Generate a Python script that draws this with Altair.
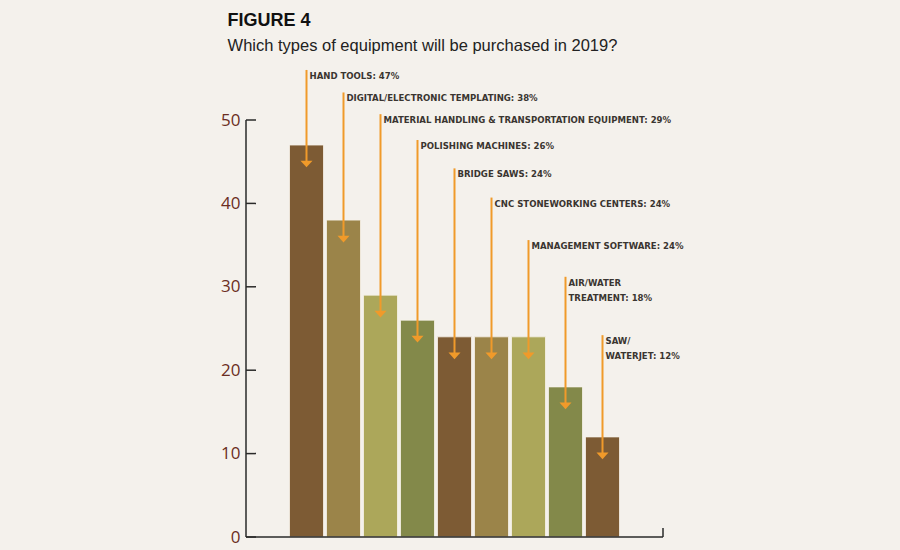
import altair as alt
import pandas as pd

categories = ["HAND TOOLS", "DIGITAL/ELECTRONIC TEMPLATING",
              "MATERIAL HANDLING & TRANSPORTATION EQUIPMENT", "POLISHING MACHINES",
              "BRIDGE SAWS", "CNC STONEWORKING CENTERS", "MANAGEMENT SOFTWARE",
              "AIR/WATER TREATMENT", "SAW/WATERJET"]
values = [47, 38, 29, 26, 24, 24, 24, 18, 12]
label_lines = [["HAND TOOLS: 47%"],
               ["DIGITAL/ELECTRONIC TEMPLATING: 38%"],
               ["MATERIAL HANDLING & TRANSPORTATION EQUIPMENT: 29%"],
               ["POLISHING MACHINES: 26%"],
               ["BRIDGE SAWS: 24%"],
               ["CNC STONEWORKING CENTERS: 24%"],
               ["MANAGEMENT SOFTWARE: 24%"],
               ["AIR/WATER", "TREATMENT: 18%"],
               ["SAW/", "WATERJET: 12%"]]
label_top = [56.0, 53.3, 50.7, 47.6, 44.2, 40.7, 35.6, 31.2, 24.2]
bar_colors = ["#7d5b34", "#9b8449", "#aca75a", "#83894a", "#7d5b34",
              "#9b8449", "#aca75a", "#83894a", "#7d5b34"]
y_ticks = [0, 10, 20, 30, 40, 50]
y_range = [0, 50]

W, H = 417, 417
ORANGE = "#f09a2a"
BG = "#f4f1ec"

df = pd.DataFrame({"cat": categories, "value": values,
                   "label": label_lines, "top": label_top})
ticks_df = pd.DataFrame({"t": y_ticks})
axis_df = pd.DataFrame({"lo": [y_range[0]], "hi": [y_range[1]]})

xenc = alt.X("cat:N", sort=categories, axis=None,
             scale=alt.Scale(paddingInner=0.081, paddingOuter=0, range=[43.5, 373.5]))
yscale = alt.Scale(domain=y_range, nice=False, zero=True)
yaxis = alt.Axis(values=y_ticks, domain=False, ticks=False, grid=False,
                 labelColor="#6b2d22", labelFont="Open Sans",
                 labelFontSize=17, labelPadding=6, title=None)


def Y(field):
    return alt.Y(field, scale=yscale, axis=yaxis, title=None)


bars = alt.Chart(df).mark_bar(stroke="#f7f3ea", strokeWidth=0.8).encode(
    x=xenc,
    y=Y("value:Q"),
    color=alt.Color("cat:N", scale=alt.Scale(domain=categories, range=bar_colors),
                    legend=None),
)

lines = alt.Chart(df).mark_rule(color=ORANGE, strokeWidth=2, y2Offset=17).encode(
    x=xenc, y=Y("top:Q"), y2="value:Q",
)

arrows = alt.Chart(df).mark_point(
    shape="M-1,-0.55L1,-0.55L0,0.55Z", filled=True, size=144, opacity=1,
    color=ORANGE, yOffset=19).encode(
    x=xenc, y=Y("value:Q"),
)

texts = alt.Chart(df).mark_text(
    align="left", baseline="top", dx=3, dy=1,
    font="Liberation Sans Narrow, Arial Narrow, DejaVu Sans Condensed, sans-serif",
    fontWeight="bold", fontSize=9.5, color="#3a3530", lineHeight=15).encode(
    x=xenc, y=Y("top:Q"), text="label",
)

yaxis_line = alt.Chart(axis_df).mark_rule(color="#2a2a2a", strokeWidth=1.5).encode(
    x=alt.value(0), y=Y("lo:Q"), y2="hi:Q")

ytick_marks = alt.Chart(ticks_df).mark_rule(color="#2a2a2a", strokeWidth=1.5).encode(
    x=alt.value(0), x2=alt.value(10), y=Y("t:Q"))

xaxis_line = alt.Chart(axis_df).mark_rule(color="#2a2a2a", strokeWidth=1.5).encode(
    x=alt.value(0), x2=alt.value(W), y=Y("lo:Q"))

xaxis_end = alt.Chart(axis_df).mark_rule(color="#2a2a2a", strokeWidth=1.5).encode(
    x=alt.value(W), y=Y("lo:Q"), y2=alt.value(H - 9))

chart = alt.layer(bars, lines, arrows, texts, yaxis_line, ytick_marks,
                  xaxis_line, xaxis_end).properties(
    width=W, height=H,
    autosize=alt.AutoSizeParams(type="none"),
    padding={"left": 246, "top": 120, "right": 237, "bottom": 13},
    background=BG,
    title=alt.TitleParams(
        text="FIGURE 4",
        subtitle="Which types of equipment will be purchased in 2019?",
        anchor="start", dx=7, offset=14,
        font="Liberation Sans", fontSize=18, fontWeight=900, color="#111111",
        subtitleFont="Liberation Sans", subtitleFontSize=16.5,
        subtitleColor="#222222", subtitlePadding=8),
).configure_view(stroke=None)

chart.save("out.html", embed_options={"renderer": "svg", "actions": False})
